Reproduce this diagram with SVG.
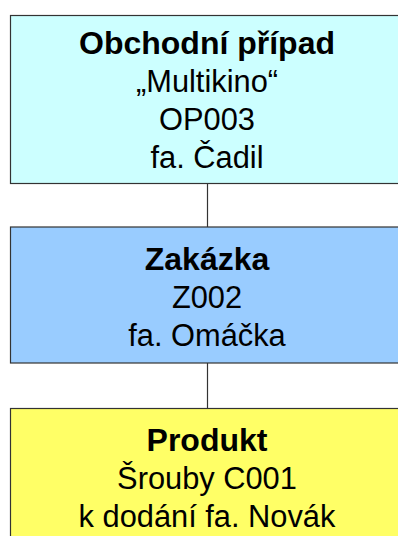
<svg xmlns="http://www.w3.org/2000/svg" width="398" height="536" viewBox="0 0 398 536">
<style>
.box{stroke:#333333;stroke-width:1.2}
.t{font-family:"Liberation Sans",Arial,sans-serif;font-size:30.8px;fill:#000;text-anchor:middle}
.b{font-weight:bold;font-size:32px}
.c{stroke:#333333;stroke-width:1.2;fill:none}
</style>
<rect width="398" height="536" fill="#ffffff"/>
<g id="connectors">
<line class="c" x1="207.5" y1="183" x2="207.5" y2="227"/>
<line class="c" x1="207.5" y1="363" x2="207.5" y2="408"/>
</g>
<g id="obchodni-pripad">
<rect class="box" x="10.5" y="15.5" width="394" height="168" fill="#CCFFFF"/>
<text class="t b" x="207" y="54">Obchodní případ</text>
<text class="t" x="207" y="92">„Multikino“</text>
<text class="t" x="207" y="130">OP003</text>
<text class="t" x="207" y="168">fa. Čadil</text>
</g>
<g id="zakazka">
<rect class="box" x="10.5" y="227" width="394" height="136" fill="#99CCFF"/>
<text class="t b" x="207" y="270">Zakázka</text>
<text class="t" x="207" y="308">Z002</text>
<text class="t" x="207" y="346">fa. Omáčka</text>
</g>
<g id="produkt">
<rect class="box" x="10.5" y="408.5" width="394" height="140" fill="#FFFF66"/>
<text class="t b" x="207" y="451">Produkt</text>
<text class="t" x="207" y="489">Šrouby C001</text>
<text class="t" x="207" y="527">k dodání fa. Novák</text>
</g>
</svg>
